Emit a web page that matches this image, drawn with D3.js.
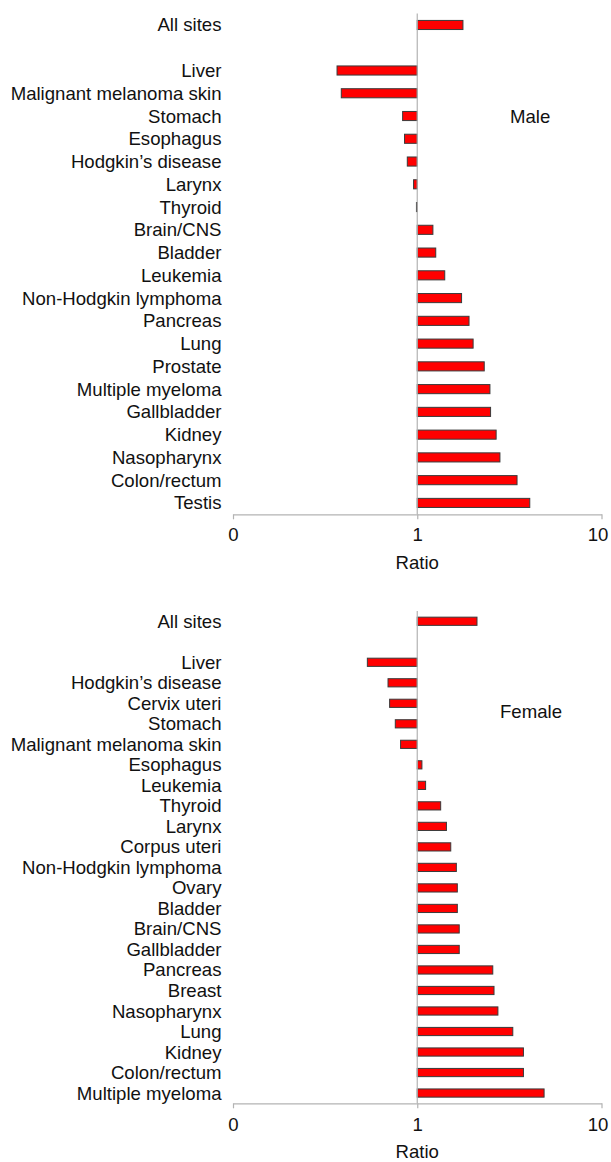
<!DOCTYPE html>
<html>
<head>
<meta charset="utf-8">
<script src="https://cdn.jsdelivr.net/npm/d3@7"></script>
<style>
  html, body { margin: 0; padding: 0; background: #fff; }
  svg { display: block; font-family: "Liberation Sans", Arial, Helvetica, sans-serif; }
</style>
</head>
<body>
<svg id="chart" width="611" height="1162"></svg>
<script>
// ---- data ----
const maleSites = ["All sites", "", "Liver", "Malignant melanoma skin", "Stomach", "Esophagus",
  "Hodgkin\u2019s disease", "Larynx", "Thyroid", "Brain/CNS", "Bladder", "Leukemia",
  "Non-Hodgkin lymphoma", "Pancreas", "Lung", "Prostate", "Multiple myeloma", "Gallbladder",
  "Kidney", "Nasopharynx", "Colon/rectum", "Testis"];
const maleRatios = [1.77, null, 0.367, 0.387, 0.833, 0.853,
  0.883, 0.955, 0.99, 1.216, 1.26, 1.41,
  1.74, 1.91, 2.01, 2.31, 2.48, 2.50,
  2.68, 2.81, 3.48, 4.08];

const femaleSites = ["All sites", "", "Liver", "Hodgkin\u2019s disease", "Cervix uteri", "Stomach",
  "Malignant melanoma skin", "Esophagus", "Leukemia", "Thyroid", "Larynx", "Corpus uteri",
  "Non-Hodgkin lymphoma", "Ovary", "Bladder", "Brain/CNS", "Gallbladder", "Pancreas",
  "Breast", "Nasopharynx", "Lung", "Kidney", "Colon/rectum", "Multiple myeloma"];
const femaleRatios = [2.11, null, 0.536, 0.694, 0.708, 0.760,
  0.812, 1.06, 1.11, 1.34, 1.44, 1.52,
  1.63, 1.65, 1.65, 1.69, 1.69, 2.57,
  2.61, 2.74, 3.30, 3.77, 3.77, 4.88];

const tickValues = [0.1, 1, 10];
const tickLabels = ["0", "1", "10"];
const axisTitle = "Ratio";

// ---- layout ----
const svg = d3.select("#chart");
const FONT = 18.6;
const axisColor = "#b3b3b3";
const x = d3.scaleLog().domain([0.1, 10]).range([233, 601.5]);

function panel(sites, ratios, title, top, bottom, titlePos, tickOff, ratioOff) {
  const g = svg.append("g");
  const y = d3.scaleBand().domain(sites.map((s, i) => i))
    .range([top, bottom]).paddingInner(0.6).paddingOuter(0.3);

  // labels
  g.selectAll("text.cat").data(sites).join("text")
    .attr("class", "cat")
    .attr("x", 221.5)
    .attr("y", (d, i) => y(i) + y.bandwidth() / 2)
    .attr("dy", "0.35em")
    .attr("text-anchor", "end")
    .attr("font-size", FONT)
    .attr("fill", "#111")
    .text(d => d);

  // bars
  const data = ratios.map((v, i) => ({ v, i })).filter(d => d.v != null);
  g.selectAll("rect.bar").data(data).join("rect")
    .attr("class", "bar")
    .attr("x", d => Math.min(x(d.v), x(1)))
    .attr("y", d => y(d.i))
    .attr("width", d => Math.max(Math.abs(x(d.v) - x(1)), 0.8))
    .attr("height", y.bandwidth())
    .attr("fill", "#ff0000")
    .attr("stroke", "#3a3a3a")
    .attr("stroke-width", 1);

  // vertical reference line at 1
  g.append("line")
    .attr("x1", x(1)).attr("x2", x(1))
    .attr("y1", top).attr("y2", bottom)
    .attr("stroke", axisColor).attr("stroke-width", 1.2);

  // x axis
  const axis = d3.axisBottom(x).tickValues(tickValues)
    .tickFormat((d, i) => tickLabels[i])
    .tickSize(5).tickSizeOuter(0).tickPadding(tickOff);
  const ax = g.append("g").attr("transform", `translate(0,${bottom})`).call(axis);
  ax.select(".domain").attr("stroke", axisColor).attr("stroke-width", 1.2);
  ax.selectAll(".tick line").attr("stroke", axisColor).attr("stroke-width", 1.2);
  ax.selectAll(".tick text").attr("font-size", FONT).attr("fill", "#111")
    .attr("font-family", "'Liberation Sans', Arial, sans-serif")
    .attr("dx", (d, i) => i === tickValues.length - 1 ? -4 : 0);

  g.append("text")
    .attr("x", x(1)).attr("y", bottom + ratioOff)
    .attr("text-anchor", "middle").attr("font-size", FONT).attr("fill", "#111")
    .text(axisTitle);

  g.append("text")
    .attr("x", titlePos[0]).attr("y", titlePos[1])
    .attr("font-size", FONT).attr("fill", "#111")
    .text(title);
}

panel(maleSites, maleRatios, "Male", 13.6, 514.3, [510, 123.3], 8.5, 54.5);
panel(femaleSites, femaleRatios, "Female", 611, 1103.3, [500, 718.3], 9.5, 55);
</script>
</body>
</html>
